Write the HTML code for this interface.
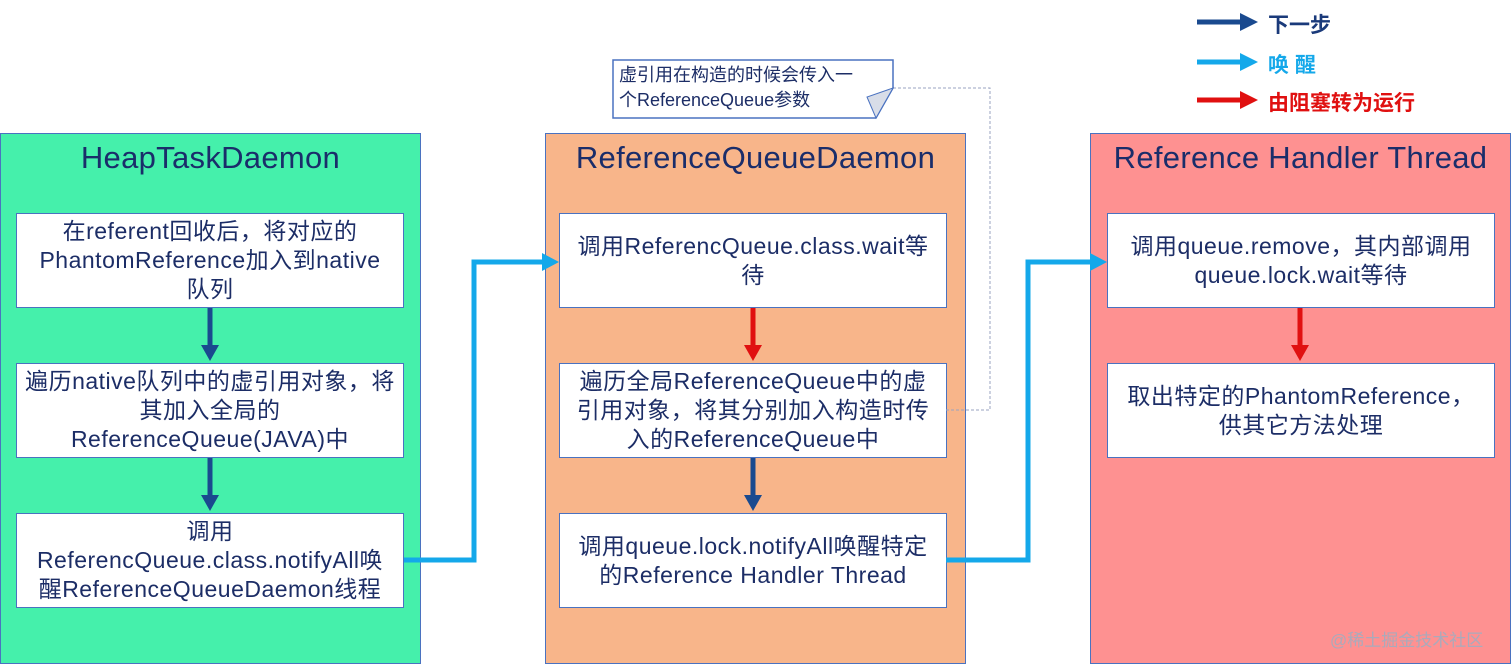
<!DOCTYPE html>
<html><head><meta charset="utf-8"><style>
body{margin:0;width:1512px;height:666px;background:#fff;position:relative;overflow:hidden;font-family:"Liberation Sans","Noto Sans CJK SC",sans-serif;}
.p{position:absolute;top:133px;height:531px;width:421px;border:1px solid #4a72c0;box-sizing:border-box}
.t{position:absolute;top:140px;width:421px;text-align:center;font-size:31px;color:#1a2d6a;letter-spacing:0.3px}
.b{position:absolute;width:388px;height:95px;background:#fff;border:1px solid #4a72c0;box-sizing:border-box;display:flex;align-items:center;justify-content:center;text-align:center;font-size:23px;line-height:29px;color:#1c2d66;padding:0;white-space:nowrap;letter-spacing:0.5px}
.lg{position:absolute;left:1268px;font-size:21px;font-weight:bold}
</style></head><body>
<div class="p" style="left:0;background:#45f0ab"></div>
<div class="p" style="left:545px;background:#f8b58a"></div>
<div class="p" style="left:1090px;background:#fe9191"></div>
<div class="t" style="left:0">HeapTaskDaemon</div>
<div class="t" style="left:545px">ReferenceQueueDaemon</div>
<div class="t" style="left:1090px">Reference Handler Thread</div>

<div class="b" style="left:16px;top:213px">在referent回收后，将对应的<br>PhantomReference加入到native<br>队列</div>
<div class="b" style="left:16px;top:363px">遍历native队列中的虚引用对象，将<br>其加入全局的<br>ReferenceQueue(JAVA)中</div>
<div class="b" style="left:16px;top:513px">调用<br>ReferencQueue.class.notifyAll唤<br>醒ReferenceQueueDaemon线程</div>
<div class="b" style="left:559px;top:213px">调用ReferencQueue.class.wait等<br>待</div>
<div class="b" style="left:559px;top:363px">遍历全局ReferenceQueue中的虚<br>引用对象，将其分别加入构造时传<br>入的ReferenceQueue中</div>
<div class="b" style="left:559px;top:513px">调用queue.lock.notifyAll唤醒特定<br>的Reference Handler Thread</div>
<div class="b" style="left:1107px;top:213px">调用queue.remove，其内部调用<br>queue.lock.wait等待</div>
<div class="b" style="left:1107px;top:363px">取出特定的PhantomReference，<br>供其它方法处理</div>

<svg width="1512" height="666" style="position:absolute;left:0;top:0">
<g stroke-width="5" fill="none">
<line x1="210" y1="308" x2="210" y2="346" stroke="#1a4a8f"/><polygon points="201,345 219,345 210,361" fill="#1a4a8f" stroke="none"/>
<line x1="210" y1="458" x2="210" y2="496" stroke="#1a4a8f"/><polygon points="201,495 219,495 210,511" fill="#1a4a8f" stroke="none"/>
<line x1="753" y1="308" x2="753" y2="346" stroke="#e01010"/><polygon points="744,345 762,345 753,361" fill="#e01010" stroke="none"/>
<line x1="753" y1="458" x2="753" y2="496" stroke="#1a4a8f"/><polygon points="744,495 762,495 753,511" fill="#1a4a8f" stroke="none"/>
<line x1="1300" y1="308" x2="1300" y2="346" stroke="#e01010"/><polygon points="1291,345 1309,345 1300,361" fill="#e01010" stroke="none"/>
<polyline points="404,560 474,560 474,262 543,262" stroke="#14a8ea"/><polygon points="542,253 559,262 542,271" fill="#14a8ea" stroke="none"/>
<polyline points="946,560 1028,560 1028,262 1091,262" stroke="#14a8ea"/><polygon points="1090,253 1107,262 1090,271" fill="#14a8ea" stroke="none"/>
<line x1="1197" y1="22" x2="1242" y2="22" stroke="#1a4a8f"/><polygon points="1240,13 1258,22 1240,31" fill="#1a4a8f" stroke="none"/>
<line x1="1197" y1="62" x2="1242" y2="62" stroke="#14a8ea"/><polygon points="1240,53 1258,62 1240,71" fill="#14a8ea" stroke="none"/>
<line x1="1197" y1="100" x2="1242" y2="100" stroke="#e01010"/><polygon points="1240,91 1258,100 1240,109" fill="#e01010" stroke="none"/>
</g>
<polyline points="893,88 990,88 990,410 946,410" fill="none" stroke="#9aa3c0" stroke-width="1" stroke-dasharray="3,2"/>
<path d="M613,60 H893 V88 L876,118 H613 Z" fill="#fff" stroke="#4a72c0" stroke-width="1.5"/>
<path d="M893,88 L876,118 L867,97 Z" fill="#d8dde8" stroke="#4a72c0" stroke-width="1"/>
</svg>
<div style="position:absolute;left:619px;top:63px;font-size:18px;line-height:25px;color:#1c2d66">虚引用在构造的时候会传入一<br>个ReferenceQueue参数</div>
<div class="lg" style="top:9px;color:#1a3a7a">下一步</div>
<div class="lg" style="top:49px;color:#14a8ea">唤 醒</div>
<div class="lg" style="top:87px;color:#e01010">由阻塞转为运行</div>
<div style="position:absolute;left:1330px;top:626px;font-size:17px;color:#aab">@稀土掘金技术社区</div>
</body></html>
